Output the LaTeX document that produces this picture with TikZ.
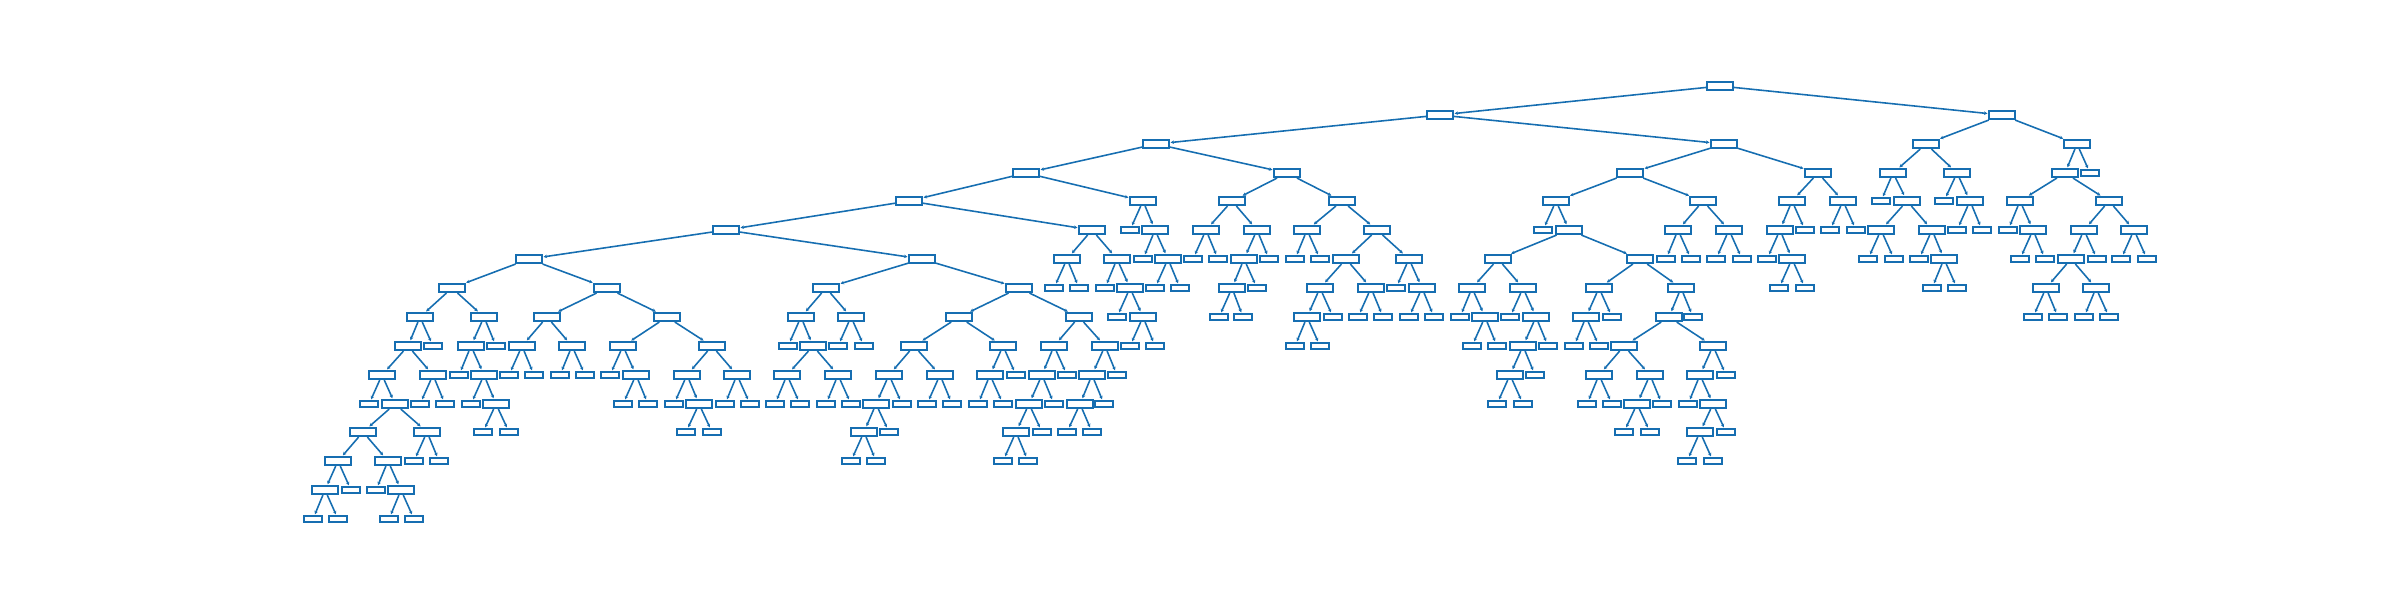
\documentclass[tikz,border=0pt]{standalone}
\usetikzlibrary{arrows.meta}
\definecolor{treeblue}{RGB}{22,110,177}
\tikzset{
split/.style = {rectangle, draw = treeblue, fill = white, line width = 0.6pt,
   inner sep = 0pt, minimum width = 2.55mm, minimum height = 0.8mm},
leaf/.style = {split, minimum width = 1.85mm, minimum height = 0.58mm},
branch/.style = {-{Stealth[length = 0.35mm, width = 0.35mm]}, treeblue,
   line width = 0.45pt, shorten > = 0.2pt}
}
\begin{document}
\begin{tikzpicture}[x = 0.01cm, y = -0.01cm]
\useasboundingbox (0, 0) rectangle (2400, 600);

%% The split nodes, level by level
\foreach \x in {1720} \node [split] (n0x\x) at (\x, 86) {};
\foreach \x in {1440, 2002} \node [split] (n1x\x) at (\x, 115) {};
\foreach \x in {1156, 1724, 1926, 2077} \node [split] (n2x\x) at (\x, 144) {};
\foreach \x in {1026, 1287, 1630, 1818, 1893, 1957, 2065} \node [split] (n3x\x) at (\x, 173) {};
\foreach \x in {909, 1143, 1232, 1342, 1556, 1703, 1792, 1843, 1907, 1970, 2020, 2109}
   \node [split] (n4x\x) at (\x, 201) {};
\foreach \x in {726, 1092, 1155, 1206, 1257, 1307, 1377, 1569, 1678, 1729, 1780, 1881,
   1932, 2033, 2084, 2134} \node [split] (n5x\x) at (\x, 230) {};
\foreach \x in {529, 922, 1067, 1117, 1168, 1244, 1346, 1409, 1498, 1640, 1792, 1944, 2071}
   \node [split] (n6x\x) at (\x, 259) {};
\foreach \x in {452, 607, 826, 1019, 1130, 1232, 1320, 1371, 1422, 1472, 1523, 1599, 1681,
   2046, 2096} \node [split] (n7x\x) at (\x, 288) {};
\foreach \x in {420, 484, 547, 667, 801, 851, 959, 1079, 1143, 1307, 1485, 1536, 1586, 1669}
   \node [split] (n8x\x) at (\x, 317) {};
\foreach \x in {408, 471, 522, 572, 623, 712, 813, 914, 1003, 1054, 1105, 1523, 1624, 1713}
   \node [split] (n9x\x) at (\x, 346) {};
\foreach \x in {382, 433, 484, 636, 687, 737, 787, 838, 889, 940, 990, 1042, 1092, 1510,
   1599, 1650, 1700} \node [split] (n10x\x) at (\x, 375) {};
\foreach \x in {395, 496, 699, 876, 1029, 1080, 1637, 1713} \node [split] (n11x\x) at (\x, 404) {};
\foreach \x in {363, 427, 864, 1016, 1700} \node [split] (n12x\x) at (\x, 432) {};
\foreach \x in {338, 388} \node [split] (n13x\x) at (\x, 461) {};
\foreach \x in {325, 401} \node [split] (n14x\x) at (\x, 490) {};

%% The leaves
\foreach \x in {2090} \node [leaf] (n3x\x) at (\x, 173) {};
\foreach \x in {1881, 1944} \node [leaf] (n4x\x) at (\x, 201) {};
\foreach \x in {1130, 1543, 1805, 1830, 1856, 1957, 1982, 2008} \node [leaf] (n5x\x) at (\x, 230) {};
\foreach \x in {1143, 1193, 1218, 1269, 1295, 1320, 1666, 1691, 1716, 1742, 1767, 1868, 1894,
   1919, 2020, 2045, 2097, 2121, 2147} \node [leaf] (n6x\x) at (\x, 259) {};
\foreach \x in {1054, 1079, 1105, 1155, 1180, 1257, 1396, 1779, 1805, 1932, 1957}
   \node [leaf] (n7x\x) at (\x, 288) {};
\foreach \x in {1117, 1219, 1243, 1333, 1358, 1383, 1409, 1434, 1460, 1510, 1612, 1693, 2033,
   2058, 2084, 2109} \node [leaf] (n8x\x) at (\x, 317) {};
\foreach \x in {433, 496, 788, 838, 864, 1130, 1155, 1295, 1320, 1472, 1497, 1548, 1574, 1599}
   \node [leaf] (n9x\x) at (\x, 346) {};
\foreach \x in {459, 509, 534, 560, 585, 610, 1016, 1067, 1117, 1535, 1726}
   \node [leaf] (n10x\x) at (\x, 375) {};
\foreach \x in {369, 420, 445, 471, 623, 648, 674, 725, 750, 775, 800, 826, 851, 902, 927, 952,
   978, 1003, 1054, 1104, 1497, 1523, 1587, 1612, 1662, 1688} \node [leaf] (n11x\x) at (\x, 404) {};
\foreach \x in {483, 509, 686, 712, 889, 1042, 1067, 1092, 1624, 1650, 1726}
   \node [leaf] (n12x\x) at (\x, 432) {};
\foreach \x in {414, 439, 851, 876, 1003, 1028, 1687, 1713} \node [leaf] (n13x\x) at (\x, 461) {};
\foreach \x in {351, 376} \node [leaf] (n14x\x) at (\x, 490) {};
\foreach \x in {313, 338, 389, 414} \node [leaf] (n15x\x) at (\x, 519) {};

%% Branches - parent/left child/right child
\foreach \p/\a/\b in {1720/1440/2002}
   \path [branch] (n0x\p) edge (n1x\a) edge (n1x\b);
\foreach \p/\a/\b in {1440/1156/1724, 2002/1926/2077}
   \path [branch] (n1x\p) edge (n2x\a) edge (n2x\b);
\foreach \p/\a/\b in {1156/1026/1287, 1724/1630/1818, 1926/1893/1957, 2077/2065/2090}
   \path [branch] (n2x\p) edge (n3x\a) edge (n3x\b);
\foreach \p/\a/\b in {1026/909/1143, 1287/1232/1342, 1630/1556/1703, 1818/1792/1843,
   1893/1881/1907, 1957/1944/1970, 2065/2020/2109}
   \path [branch] (n3x\p) edge (n4x\a) edge (n4x\b);
\foreach \p/\a/\b in {909/726/1092, 1143/1130/1155, 1232/1206/1257, 1342/1307/1377,
   1556/1543/1569, 1703/1678/1729, 1792/1780/1805, 1843/1830/1856, 1907/1881/1932,
   1970/1957/1982, 2020/2008/2033, 2109/2084/2134}
   \path [branch] (n4x\p) edge (n5x\a) edge (n5x\b);
\foreach \p/\a/\b in {726/529/922, 1092/1067/1117, 1155/1143/1168, 1206/1193/1218,
   1257/1244/1269, 1307/1295/1320, 1377/1346/1409, 1569/1498/1640, 1678/1666/1691,
   1729/1716/1742, 1780/1767/1792, 1881/1868/1894, 1932/1919/1944, 2033/2020/2045,
   2084/2071/2097, 2134/2121/2147}
   \path [branch] (n5x\p) edge (n6x\a) edge (n6x\b);
\foreach \p/\a/\b in {529/452/607, 922/826/1019, 1067/1054/1079, 1117/1105/1130,
   1168/1155/1180, 1244/1232/1257, 1346/1320/1371, 1409/1396/1422, 1498/1472/1523,
   1640/1599/1681, 1792/1779/1805, 1944/1932/1957, 2071/2046/2096}
   \path [branch] (n6x\p) edge (n7x\a) edge (n7x\b);
\foreach \p/\a/\b in {452/420/484, 607/547/667, 826/801/851, 1019/959/1079, 1130/1117/1143,
   1232/1219/1243, 1320/1307/1333, 1371/1358/1383, 1422/1409/1434, 1472/1460/1485,
   1523/1510/1536, 1599/1586/1612, 1681/1669/1693, 2046/2033/2058, 2096/2084/2109}
   \path [branch] (n7x\p) edge (n8x\a) edge (n8x\b);
\foreach \p/\a/\b in {420/408/433, 484/471/496, 547/522/572, 667/623/712, 801/788/813,
   851/838/864, 959/914/1003, 1079/1054/1105, 1143/1130/1155, 1307/1295/1320,
   1485/1472/1497, 1536/1523/1548, 1586/1574/1599, 1669/1624/1713}
   \path [branch] (n8x\p) edge (n9x\a) edge (n9x\b);
\foreach \p/\a/\b in {408/382/433, 471/459/484, 522/509/534, 572/560/585, 623/610/636,
   712/687/737, 813/787/838, 914/889/940, 1003/990/1016, 1054/1042/1067, 1105/1092/1117,
   1523/1510/1535, 1624/1599/1650, 1713/1700/1726}
   \path [branch] (n9x\p) edge (n10x\a) edge (n10x\b);
\foreach \p/\a/\b in {382/369/395, 433/420/445, 484/471/496, 636/623/648, 687/674/699,
   737/725/750, 787/775/800, 838/826/851, 889/876/902, 940/927/952, 990/978/1003,
   1042/1029/1054, 1092/1080/1104, 1510/1497/1523, 1599/1587/1612, 1650/1637/1662,
   1700/1688/1713}
   \path [branch] (n10x\p) edge (n11x\a) edge (n11x\b);
\foreach \p/\a/\b in {395/363/427, 496/483/509, 699/686/712, 876/864/889, 1029/1016/1042,
   1080/1067/1092, 1637/1624/1650, 1713/1700/1726}
   \path [branch] (n11x\p) edge (n12x\a) edge (n12x\b);
\foreach \p/\a/\b in {363/338/388, 427/414/439, 864/851/876, 1016/1003/1028, 1700/1687/1713}
   \path [branch] (n12x\p) edge (n13x\a) edge (n13x\b);
\foreach \p/\a/\b in {338/325/351, 388/376/401}
   \path [branch] (n13x\p) edge (n14x\a) edge (n14x\b);
\foreach \p/\a/\b in {325/313/338, 401/389/414}
   \path [branch] (n14x\p) edge (n15x\a) edge (n15x\b);

\end{tikzpicture}
\end{document}
